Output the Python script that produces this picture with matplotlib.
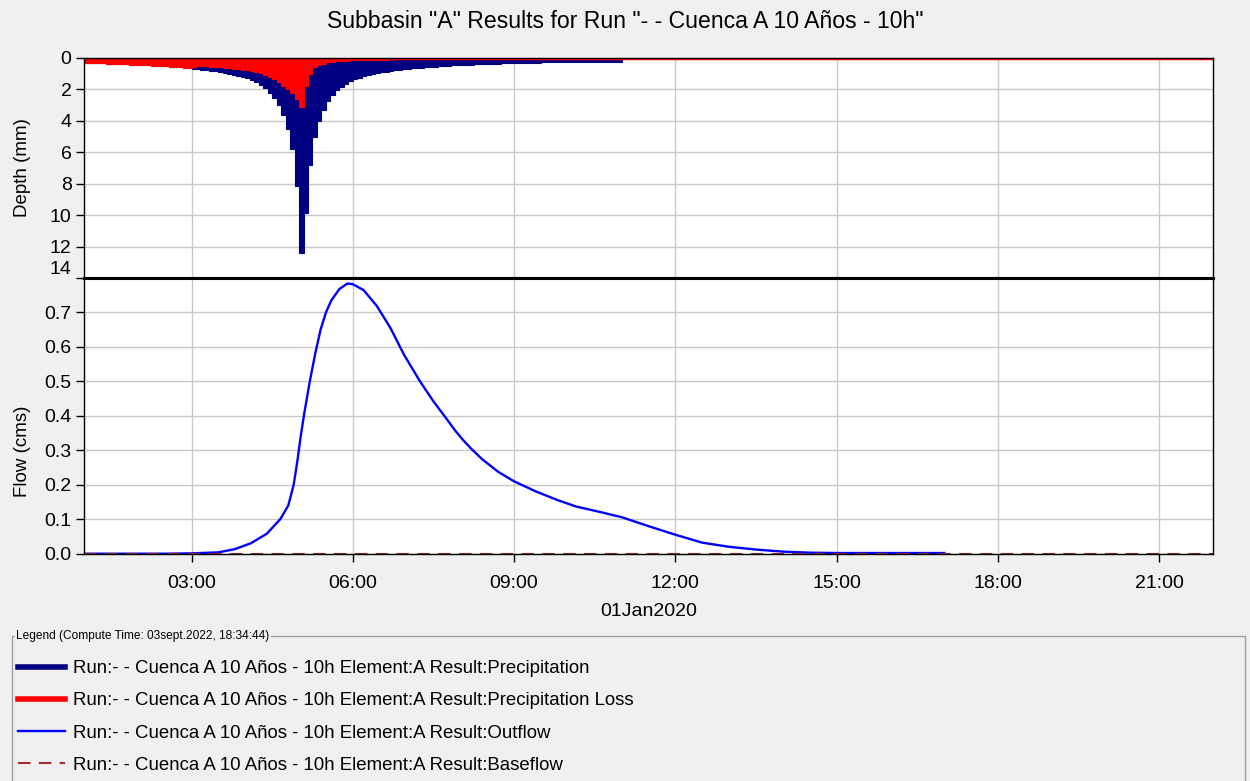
import numpy as np
import matplotlib
matplotlib.use("Agg")
import matplotlib.pyplot as plt
from matplotlib.lines import Line2D
from matplotlib.patches import Rectangle

plt.rcParams['font.family'] = ['Liberation Sans', 'DejaVu Sans']

# 5-minute incremental depths (mm), 01:00 -> 11:00
precip = [0.305, 0.315, 0.325, 0.335, 0.345, 0.355, 0.365, 0.38, 0.39, 0.40,
          0.415, 0.43, 0.44, 0.455, 0.47, 0.48, 0.50, 0.52, 0.54, 0.56,
          0.58, 0.60, 0.62, 0.65, 0.68, 0.71, 0.74, 0.77, 0.80, 0.84,
          0.88, 0.93, 0.99, 1.05, 1.12, 1.20, 1.30, 1.41, 1.55, 1.72,
          1.93, 2.2, 2.55, 3.0, 3.6, 4.5, 5.8, 8.15, 12.4, 9.85,
          6.8, 5.05, 4.0, 3.3, 2.75, 2.35, 2.05, 1.82, 1.63, 1.48,
          1.35, 1.25, 1.16, 1.08, 1.02, 0.96, 0.91, 0.86, 0.82, 0.78,
          0.75, 0.72, 0.69, 0.66, 0.64, 0.61, 0.59, 0.57, 0.55, 0.53,
          0.51, 0.49, 0.475, 0.46, 0.45, 0.435, 0.42, 0.41, 0.395, 0.385,
          0.37, 0.36, 0.35, 0.34, 0.33, 0.32, 0.31, 0.30, 0.30, 0.295,
          0.29, 0.29, 0.285, 0.28, 0.28, 0.275, 0.27, 0.27, 0.265, 0.26,
          0.26, 0.255, 0.25, 0.25, 0.245, 0.24, 0.24, 0.235, 0.23, 0.23]

loss = [0.305, 0.315, 0.325, 0.335, 0.345, 0.355, 0.365, 0.38, 0.39, 0.40,
        0.415, 0.43, 0.44, 0.455, 0.47, 0.48, 0.50, 0.52, 0.54, 0.56,
        0.58, 0.60, 0.62, 0.63, 0.60, 0.50, 0.52, 0.53, 0.55, 0.57,
        0.59, 0.62, 0.65, 0.68, 0.71, 0.75, 0.79, 0.83, 0.90, 0.98,
        1.08, 1.2, 1.35, 1.55, 1.75, 1.95, 2.2, 2.6, 3.1, 1.75,
        1.0, 0.6, 0.45, 0.35, 0.28, 0.23, 0.20, 0.18, 0.16, 0.15,
        0.14, 0.13, 0.12, 0.115, 0.11, 0.105, 0.10, 0.098, 0.095, 0.092,
        0.09, 0.088, 0.085, 0.083, 0.08, 0.078, 0.076, 0.074, 0.072, 0.07,
        0.068, 0.066, 0.064, 0.063, 0.062, 0.06, 0.059, 0.058, 0.057, 0.056,
        0.055, 0.054, 0.053, 0.052, 0.051, 0.05, 0.05, 0.049, 0.048, 0.048,
        0.047, 0.047, 0.046, 0.046, 0.045, 0.045, 0.044, 0.044, 0.043, 0.043,
        0.042, 0.042, 0.041, 0.041, 0.04, 0.04, 0.04, 0.039, 0.039, 0.038]

# outflow hydrograph (hours, cms)
flow_t = [1.0, 2.5, 3.0, 3.5, 3.8, 4.1, 4.4, 4.65, 4.8, 4.9, 4.97, 5.03, 5.1,
          5.2, 5.3, 5.4, 5.5, 5.6, 5.75, 5.9, 6.0, 6.2, 6.45, 6.7, 6.95, 7.25,
          7.5, 7.75, 7.9, 8.05, 8.2, 8.4, 8.7, 9.0, 9.4, 9.8, 10.15, 10.6, 11.0,
          11.5, 12.0, 12.5, 13.0, 13.5, 14.0, 14.5, 15.0, 16.0, 17.0]
flow_q = [0.0, 0.0, 0.001, 0.004, 0.013, 0.03, 0.058, 0.10, 0.14, 0.2, 0.27,
          0.34, 0.41, 0.5, 0.58, 0.65, 0.70, 0.735, 0.768, 0.784, 0.782, 0.765,
          0.718, 0.655, 0.578, 0.50, 0.442, 0.39, 0.358, 0.33, 0.305, 0.275,
          0.238, 0.21, 0.181, 0.156, 0.137, 0.121, 0.106, 0.08, 0.055, 0.032,
          0.02, 0.012, 0.006, 0.003, 0.002, 0.002, 0.002]
baseflow_t = [1.0, 22.0]
baseflow_q = [0.0, 0.0]

hour_ticks = [3, 6, 9, 12, 15, 18, 21]
t_start, t_end = 1.0, 22.0
step = 5 / 60

starts = t_start + step * np.arange(len(precip))

bg = '#F0F0F0'
fig = plt.figure(figsize=(12.5, 7.81), dpi=100, facecolor=bg)

L, R = 84 / 1250, 1213 / 1250
def fy(px):
    return 1 - px / 781

ax1 = fig.add_axes([L, fy(278), R - L, fy(58) - fy(278)])
ax2 = fig.add_axes([L, fy(553.7), R - L, fy(278) - fy(553.7)])

for ax in (ax1, ax2):
    ax.set_facecolor('white')
    ax.set_xlim(t_start, t_end)
    ax.set_xticks(hour_ticks)
    ax.grid(True, color='#C8C8C8', linewidth=1.0)
    ax.set_axisbelow(True)
    for s in ax.spines.values():
        s.set_color('black')
        s.set_linewidth(1.0)
    ax.tick_params(axis='both', direction='out', length=6, width=1,
                   labelsize=14, colors='black', pad=3)

# --- depth panel (bars hang down from 0)
ax1.bar(starts, precip, width=step, align='edge', color='#000080',
        edgecolor='#000080', linewidth=0.8)
ax1.bar(starts, loss, width=step, align='edge', color='#FF0000',
        edgecolor='#FF0000', linewidth=0.8)
ax1.axhline(0, color='#FF0000', linewidth=2.5)
ax1.set_ylim(14, 0)
ax1.set_yticks(range(0, 15, 2))
ax1.tick_params(axis='x', length=0, labelbottom=False)
ax1.set_ylabel('Depth (mm)', fontsize=13.5)
ax1.yaxis.set_label_coords(-0.047, 0.5)
ax1.get_yticklabels()[-1].set_va('bottom')
ax1.spines['bottom'].set_linewidth(2.2)

# --- flow panel
ax2.plot(flow_t, flow_q, color='#0000FF', linewidth=1.7)
ax2.plot(baseflow_t, baseflow_q, color='#A52A2A', linewidth=1.5,
         linestyle=(0, (6, 4)))
ax2.set_ylim(0, 0.8)
ax2.set_yticks(np.arange(0, 0.75, 0.1))
ax2.set_yticklabels([f'{v:.1f}' for v in np.arange(0, 0.75, 0.1)])
ax2.set_xticklabels([f'{h:02d}:00' for h in hour_ticks])
ax2.tick_params(axis='x', pad=9)
ax2.set_xlabel('01Jan2020', fontsize=14, labelpad=8)
ax2.set_ylabel('Flow (cms)', fontsize=13.5)
ax2.yaxis.set_label_coords(-0.047, 0.37)
ax2.spines['top'].set_linewidth(2.2)

fig.text(0.5, fy(22), 'Subbasin "A" Results for Run "- - Cuenca A 10 Años - 10h"',
         ha='center', va='center', fontsize=16.6)

# --- legend box
fig.add_artist(Rectangle((12 / 1250, -0.05), (1245 - 12) / 1250, fy(636) + 0.05,
                         transform=fig.transFigure, fill=False,
                         edgecolor='#A0A0A0', linewidth=1.0))
fig.text(16 / 1250, fy(636), 'Legend (Compute Time: 03sept.2022, 18:34:44)',
         ha='left', va='center', fontsize=8.6,
         bbox=dict(facecolor=bg, edgecolor='none', pad=1))

run = 'Run:- - Cuenca A 10 Años - 10h Element:A Result:'
handles = [Line2D([], [], color='#000080', linewidth=4),
           Line2D([], [], color='#FF0000', linewidth=4),
           Line2D([], [], color='#0000FF', linewidth=1.7),
           Line2D([], [], color='#A52A2A', linewidth=1.5, linestyle=(0, (6, 4)))]
labels = [run + 'Precipitation', run + 'Precipitation Loss',
          run + 'Outflow', run + 'Baseflow']
fig.legend(handles, labels, loc='upper left', bbox_to_anchor=(18 / 1250, fy(660)),
           frameon=False, fontsize=13.4, handlelength=2.5, handletextpad=0.43,
           labelspacing=0.82, borderaxespad=0, borderpad=0)

fig.savefig('out.png', dpi=100, facecolor=bg)
